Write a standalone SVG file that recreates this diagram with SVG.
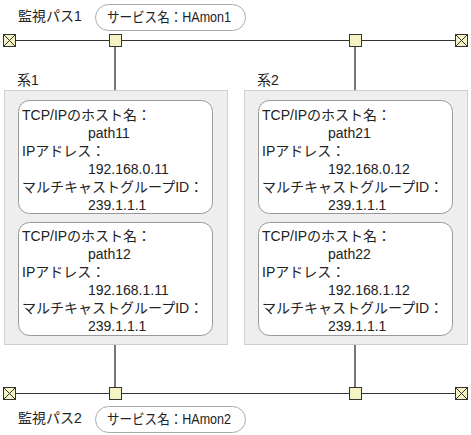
<svg xmlns="http://www.w3.org/2000/svg" width="471" height="435" viewBox="0 0 471 435">
<style>
text{font-family:"Liberation Sans","Noto Sans CJK JP",sans-serif;font-size:14px;fill:#222;}
.bus{stroke:#333;stroke-width:1;fill:none;}
.drop{stroke:#777;stroke-width:2;fill:none;}
.jn{fill:#f5f3c4;stroke:#333;stroke-width:1;}
.grp{fill:#eeeeee;stroke:#cfcfcf;stroke-width:1;}
.host{fill:#fff;stroke:#999;stroke-width:1;}
.pill{fill:#fff;stroke:#aaa;stroke-width:1;}
</style>
<defs>
<g id="term">
<rect x="-6" y="-6" width="12" height="12" class="jn"/>
<path d="M-6,-6L6,6M6,-6L-6,6" stroke="#333" stroke-width="1"/>
</g>
</defs>
<g id="connectors">
<line class="bus" x1="15" y1="40.5" x2="455" y2="40.5"/>
<line class="bus" x1="15" y1="393.5" x2="455" y2="393.5"/>
<line class="drop" x1="115" y1="46" x2="115" y2="90"/>
<line class="drop" x1="355" y1="46" x2="355" y2="90"/>
<line class="drop" x1="115" y1="345" x2="115" y2="387"/>
<line class="drop" x1="355" y1="345" x2="355" y2="387"/>
</g>
<g id="path1-label">
<text x="18" y="21">監視パス1</text>
<rect class="pill" x="95.5" y="4.5" width="150" height="26" rx="13"/>
<text x="107" y="22" textLength="124" lengthAdjust="spacingAndGlyphs">サービス名：HAmon1</text>
</g>
<g id="path2-label">
<text x="18" y="423">監視パス2</text>
<rect class="pill" x="95.5" y="406.5" width="150" height="26" rx="13"/>
<text x="107" y="424" textLength="124" lengthAdjust="spacingAndGlyphs">サービス名：HAmon2</text>
</g>
<g id="term-tl"><use href="#term" x="9.5" y="40.5"/></g>
<g id="term-tr"><use href="#term" x="461.5" y="40.5"/></g>
<g id="term-bl"><use href="#term" x="9.5" y="393.5"/></g>
<g id="term-br"><use href="#term" x="461.5" y="393.5"/></g>
<g id="jn-t1"><rect class="jn" x="109.5" y="34.5" width="12" height="12"/></g>
<g id="jn-t2"><rect class="jn" x="349.5" y="34.5" width="12" height="12"/></g>
<g id="jn-b1"><rect class="jn" x="109.5" y="387.5" width="12" height="12"/></g>
<g id="jn-b2"><rect class="jn" x="349.5" y="387.5" width="12" height="12"/></g>
<g id="sys1">
<text x="17" y="85">系1</text>
<rect class="grp" x="4.5" y="90.5" width="223" height="254"/>
</g>
<g id="sys2">
<text x="257" y="85">系2</text>
<rect class="grp" x="244.5" y="90.5" width="223" height="254"/>
</g>
<g id="host11">
<rect class="host" x="18.5" y="100.5" width="194" height="113" rx="11"/>
<text x="22" y="120">TCP/IPのホスト名：</text>
<text x="88" y="138">path11</text>
<text x="22" y="156">IPアドレス：</text>
<text x="88" y="174">192.168.0.11</text>
<text x="22" y="192">マルチキャストグループID：</text>
<text x="88" y="210">239.1.1.1</text>
</g>
<g id="host12">
<rect class="host" x="18.5" y="222.5" width="194" height="113" rx="11"/>
<text x="22" y="241">TCP/IPのホスト名：</text>
<text x="88" y="259">path12</text>
<text x="22" y="277">IPアドレス：</text>
<text x="88" y="295">192.168.1.11</text>
<text x="22" y="313">マルチキャストグループID：</text>
<text x="88" y="331">239.1.1.1</text>
</g>
<g id="host21">
<rect class="host" x="258.5" y="100.5" width="194" height="113" rx="11"/>
<text x="262" y="120">TCP/IPのホスト名：</text>
<text x="328" y="138">path21</text>
<text x="262" y="156">IPアドレス：</text>
<text x="328" y="174">192.168.0.12</text>
<text x="262" y="192">マルチキャストグループID：</text>
<text x="328" y="210">239.1.1.1</text>
</g>
<g id="host22">
<rect class="host" x="258.5" y="222.5" width="194" height="113" rx="11"/>
<text x="262" y="241">TCP/IPのホスト名：</text>
<text x="328" y="259">path22</text>
<text x="262" y="277">IPアドレス：</text>
<text x="328" y="295">192.168.1.12</text>
<text x="262" y="313">マルチキャストグループID：</text>
<text x="328" y="331">239.1.1.1</text>
</g>
</svg>
